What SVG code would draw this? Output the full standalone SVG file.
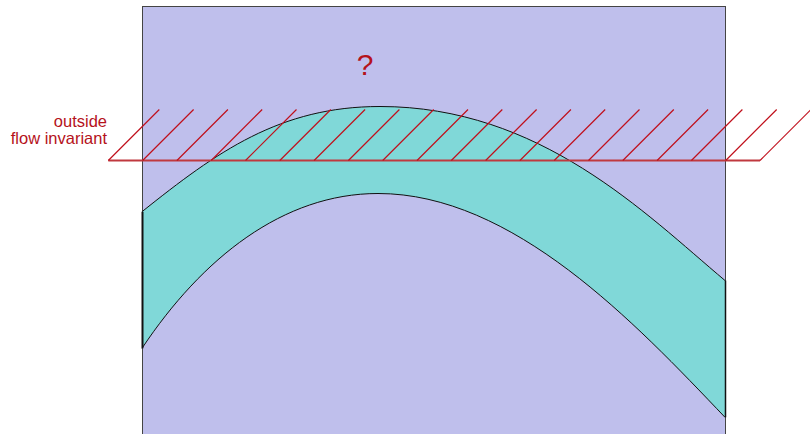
<svg xmlns="http://www.w3.org/2000/svg" width="810" height="434" viewBox="0 0 810 434">
  <style>
    .lbl { font-family: "Liberation Sans", Arial, sans-serif; fill: #b5121b; }
    .hatch { stroke: #c0101c; stroke-width: 1.2; fill: none; }
    .base { stroke: #c0393f; stroke-width: 2; fill: none; }
    .curve { stroke: #111; stroke-width: 1; fill: none; }
  </style>
  <rect width="810" height="434" fill="#ffffff"/>
  <g id="domain">
    <rect x="142.5" y="6.5" width="583" height="440" fill="#bfbfec" stroke="#444" stroke-width="1"/>
  </g>
  <g id="band">
    <path fill="#80d8d8" stroke="none" d="M142,211.7 C217,151.7 280,106.5 380,106.5 C540,106.5 645,213.3 725,280.5 L725,417.3 C635,322.8 513,193.5 378,193.5 C283,193.5 202,258.3 142,348.3 Z"/>
    <path class="curve" d="M142,211.7 C217,151.7 280,106.5 380,106.5 C540,106.5 645,213.3 725,280.5"/>
    <path class="curve" d="M142,348.3 C202,258.3 283,193.5 378,193.5 C513,193.5 635,322.8 725,417.3"/>
    <line x1="142.5" y1="211.7" x2="142.5" y2="348.3" stroke="#111" stroke-width="2"/>
    <line x1="725.5" y1="280.5" x2="725.5" y2="417.3" stroke="#111" stroke-width="1.5"/>
  </g>
  <g id="invariant">
    <line class="base" x1="108.3" y1="160.5" x2="760" y2="160.5"/>
    <path class="hatch" d="M108.3,160.5 l51,-51 M142.6,160.5 l51,-51 M176.9,160.5 l51,-51 M211.2,160.5 l51,-51 M245.5,160.5 l51,-51 M279.8,160.5 l51,-51 M314.1,160.5 l51,-51 M348.4,160.5 l51,-51 M382.7,160.5 l51,-51 M417,160.5 l51,-51 M451.3,160.5 l51,-51 M485.6,160.5 l51,-51 M519.9,160.5 l51,-51 M554.2,160.5 l51,-51 M588.5,160.5 l51,-51 M622.8,160.5 l51,-51 M657.1,160.5 l51,-51 M691.4,160.5 l51,-51 M725.7,160.5 l51,-51 M760,160.5 l51,-51"/>
  </g>
  <g id="labels">
    <text class="lbl" x="107" y="127" font-size="16.5" text-anchor="end">outside</text>
    <text class="lbl" x="107" y="143.5" font-size="16.5" text-anchor="end">flow invariant</text>
    <text class="lbl" x="365" y="75" font-size="30" text-anchor="middle">?</text>
  </g>
</svg>
